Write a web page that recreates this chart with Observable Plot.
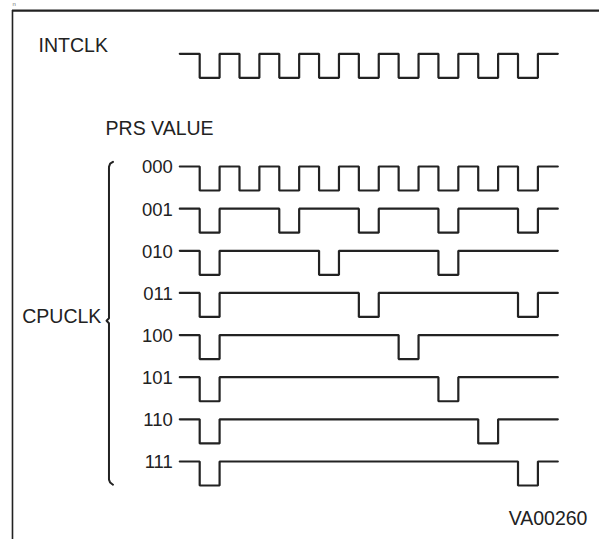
<!DOCTYPE html>
<html>
<head>
<meta charset="utf-8">
<script src="https://cdn.jsdelivr.net/npm/d3@7"></script>
<script src="https://cdn.jsdelivr.net/npm/@observablehq/plot@0.6"></script>
<style>
  html, body { margin: 0; padding: 0; background: #fff; }
  #chart svg { display: block; }
</style>
</head>
<body>
<div id="chart"></div>
<script>
// ---- Data (time in half-periods of INTCLK, rows in signal index) ----
const prsValues = ["000", "001", "010", "011", "100", "101", "110", "111"];
const intclkLowStarts = [1, 3, 5, 7, 9, 11, 13, 15, 17];
const cpuclkLowStarts = [
  [1, 3, 5, 7, 9, 11, 13, 15, 17], // 000
  [1, 5, 9, 13, 17],               // 001
  [1, 7, 13],                      // 010
  [1, 9, 17],                      // 011
  [1, 11],                         // 100
  [1, 13],                         // 101
  [1, 15],                         // 110
  [1, 17]                          // 111
];
const pulseWidth = 1;
const timeStart = 0;
const timeEnd = 19;
const intclkRow = -2.674;
const swing = 0.57;

const leftLabels = ["INTCLK", "PRS VALUE", "CPUCLK"];
const leftX = [-7.10, -3.73, -7.92];
const leftRow = [-2.86, -0.89, 3.567];
const figureId = "VA00260";
const figureIdX = 20.49;
const figureIdRow = 8.35;

const braceT = [-3.36, -3.50, -3.56, -3.56, -3.68, -3.56, -3.56, -3.50, -3.36];
const braceRow = [-0.11, -0.07, 0.01, 3.60, 3.66, 3.72, 7.43, 7.50, 7.55];

const frameLeftT = -8.41, frameTopRow = -3.70, frameRightT = 21.2, frameBottomRow = 8.9;

// ---- Build step waveforms ----
function wave(lows, row, name) {
  const pts = [{t: timeStart, y: row, name}];
  for (const s of lows) {
    pts.push({t: s, y: row, name}, {t: s, y: row + swing, name},
             {t: s + pulseWidth, y: row + swing, name}, {t: s + pulseWidth, y: row, name});
  }
  pts.push({t: timeEnd, y: row, name});
  return pts;
}
let waves = wave(intclkLowStarts, intclkRow, "INTCLK");
cpuclkLowStarts.forEach((lows, i) => { waves = waves.concat(wave(lows, i, prsValues[i])); });

const rowLabels = prsValues.map((v, i) => ({v, row: i}));
const titles = leftLabels.map((s, i) => ({s, t: leftX[i], row: leftRow[i]}));
const brace = braceT.map((t, i) => ({t, y: braceRow[i]}));

const ink = "#222";
const font = "Liberation Sans, Arial, Helvetica, sans-serif";

const chart = Plot.plot({
  width: 599,
  height: 539,
  margin: 0,
  style: {fontFamily: font, background: "#fff"},
  x: {domain: [0, 19], range: [179.3, 557.3], axis: null},
  y: {domain: [0, 7], range: [166, 461], axis: null},
  marks: [
    Plot.ruleY([frameTopRow], {x1: frameLeftT, x2: frameRightT, stroke: ink, strokeWidth: 2.2}),
    Plot.ruleX([frameLeftT], {y1: frameTopRow, y2: frameBottomRow, stroke: ink, strokeWidth: 1.6}),
    Plot.text(["n"], {x: frameLeftT, y: frameTopRow, dy: -6, text: d => d, fontSize: 6, fill: "#777", textAnchor: "start"}),
    Plot.line(waves, {x: "t", y: "y", z: "name", stroke: ink, strokeWidth: 2.2, strokeLinejoin: "miter", curve: "linear"}),
    Plot.line(brace, {x: "t", y: "y", stroke: ink, strokeWidth: 2, curve: "linear"}),
    Plot.text(rowLabels, {x: timeStart, y: "row", text: "v", dx: -7, dy: 1, textAnchor: "end", lineAnchor: "middle", fontSize: 18.5, fill: ink}),
    Plot.text(titles, {x: "t", y: "row", text: "s", textAnchor: "start", lineAnchor: "middle", fontSize: 19.5, fill: ink}),
    Plot.text([figureId], {x: figureIdX, y: figureIdRow, text: d => d, textAnchor: "end", lineAnchor: "middle", fontSize: 19.5, fill: ink})
  ]
});
document.getElementById("chart").appendChild(chart);
</script>
</body>
</html>
